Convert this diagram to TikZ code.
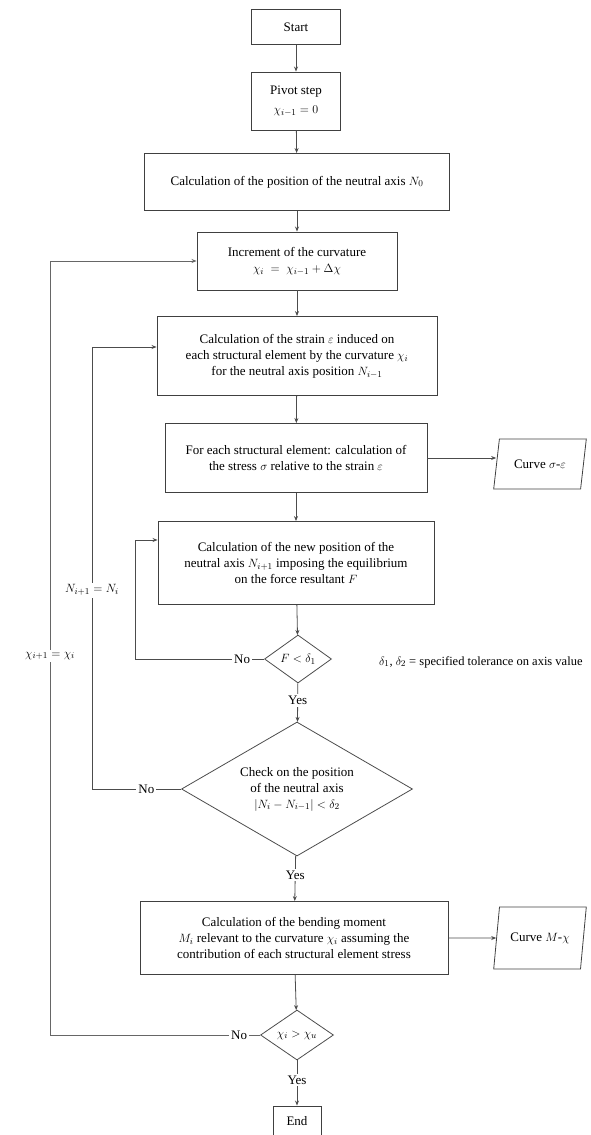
\documentclass[tikz,border=0pt]{standalone}
\usepackage{fontspec}
\setmainfont{Liberation Serif}
\usetikzlibrary{shapes.geometric,arrows.meta}
\begin{document}
\begin{tikzpicture}[x=1pt, y=-1pt,
        every node/.style={font=\fontsize{13}{16}\selectfont},
        block/.style={rectangle, draw=black!75, line width=0.9pt,
            align=center, inner sep=1.5pt},
        cond/.style={diamond, draw=black!70, line width=0.8pt,
            align=center, inner sep=1pt},
        data/.style={trapezium, trapezium left angle=75, trapezium right angle=105,
            trapezium stretches=true, draw=black!75, line width=0.8pt,
            minimum width=93pt, minimum height=50pt, align=center},
        arrow/.style={-{Stealth[length=5pt, width=4pt]}, draw=black!70, line width=0.8pt},
        lbl/.style={fill=white, inner sep=2pt}
      ]
      \useasboundingbox (0,0) rectangle (590,1135);

      \node[block, minimum width=89pt, minimum height=35pt]
      (start) at (296,27) {Start};
      \node[block, minimum width=89pt, minimum height=58pt]
      (pivot) at (296,101) {Pivot step\\[3pt] $\chi_{i-1}=0$};
      \node[block, minimum width=305pt, minimum height=57pt]
      (axis0) at (297,182) {Calculation of the position of the neutral axis $N_0$};
      \node[block, minimum width=200pt, minimum height=58pt]
      (incr) at (297,261) {Increment of the curvature\\ $\chi_i\ =\ \chi_{i-1}+\Delta\chi$};
      \node[block, minimum width=280pt, minimum height=79pt]
      (strain) at (297,356) {Calculation of the strain $\varepsilon$ induced on\\
        each structural element by the curvature $\chi_i$\\
        for the neutral axis position $N_{i-1}$};
      \node[block, minimum width=262pt, minimum height=69pt]
      (stress) at (296,458) {For each structural element: calculation of\\
        the stress $\sigma$ relative to the strain $\varepsilon$};
      \node[data] (curvese) at (540,464) {Curve $\sigma$-$\varepsilon$};
      \node[block, minimum width=276pt, minimum height=83pt]
      (newaxis) at (296,563) {Calculation of the new position of the\\
        neutral axis $N_{i+1}$ imposing the equilibrium\\
        on the force resultant $F$};

      \node[cond, shape aspect=1.4, minimum width=67pt, minimum height=48pt]
      (d1) at (298,659) {$F<\delta_1$};
      \node[anchor=west, font=\fontsize{12.5}{14}\selectfont, inner sep=1pt]
      (tol) at (378,662) {$\delta_1$, $\delta_2$ = specified tolerance on axis value};

      \node[cond, shape aspect=1.7, minimum width=231pt, minimum height=134pt, inner sep=0pt]
      (check) at (297,789) {Check on the position\\ of the neutral axis\\
        $|N_i-N_{i-1}|<\delta_2$};

      \node[block, minimum width=308pt, minimum height=73pt]
      (moment) at (294,938) {Calculation of the bending moment\\
        $M_i$ relevant to the curvature $\chi_i$ assuming the\\
        contribution of each structural element stress};
      \node[data, minimum height=62pt] (curvem) at (540,938) {Curve $M$-$\chi$};

      \node[cond, shape aspect=1.4, minimum width=73pt, minimum height=50pt]
      (d2) at (297,1035) {$\chi_i>\chi_u$};
      \node[block, minimum width=48pt, minimum height=30pt]
      (end) at (297,1121) {End};

      \draw[arrow] (start) -- (pivot);
      \draw[arrow] (pivot) -- (axis0);
      \draw[arrow] (axis0) -- (incr);
      \draw[arrow] (incr) -- (strain);
      \draw[arrow] (strain) -- (stress);
      \draw[arrow] (stress.east) -- (stress.east -| curvese.west);
      \draw[arrow] (stress) -- (newaxis);
      \draw[arrow] (newaxis) -- (d1);
      \draw[arrow] (d1) -- node[lbl, pos=0.45] {Yes} (check);
      \draw[arrow] (check) -- node[lbl, pos=0.43] {Yes} (moment);
      \draw[arrow] (moment) -- (curvem);
      \draw[arrow] (moment) -- (d2);
      \draw[arrow] (d2) -- node[lbl, pos=0.43] {Yes} (end);

      \coordinate (loopf) at (135,659);
      \coordinate (loopn) at (92,789);
      \coordinate (loopx) at (50,1035);

      \draw[arrow] (d1.west) -- node[lbl, pos=0.17] {No} (loopf)
      |- ([yshift=23pt]newaxis.west);
      \draw[arrow] (check.west) -- node[lbl, pos=0.39] {No} (loopn)
      |- node[lbl, pos=0.225] {$N_{i+1}=N_i$} ([yshift=9pt]strain.west);
      \draw[arrow, draw=black!60] (d2.west) -- node[lbl, pos=0.1] {No} (loopx)
      |- node[lbl, pos=0.245] {$\chi_{i+1}=\chi_i$} (incr.west);
    \end{tikzpicture}
\end{document}
